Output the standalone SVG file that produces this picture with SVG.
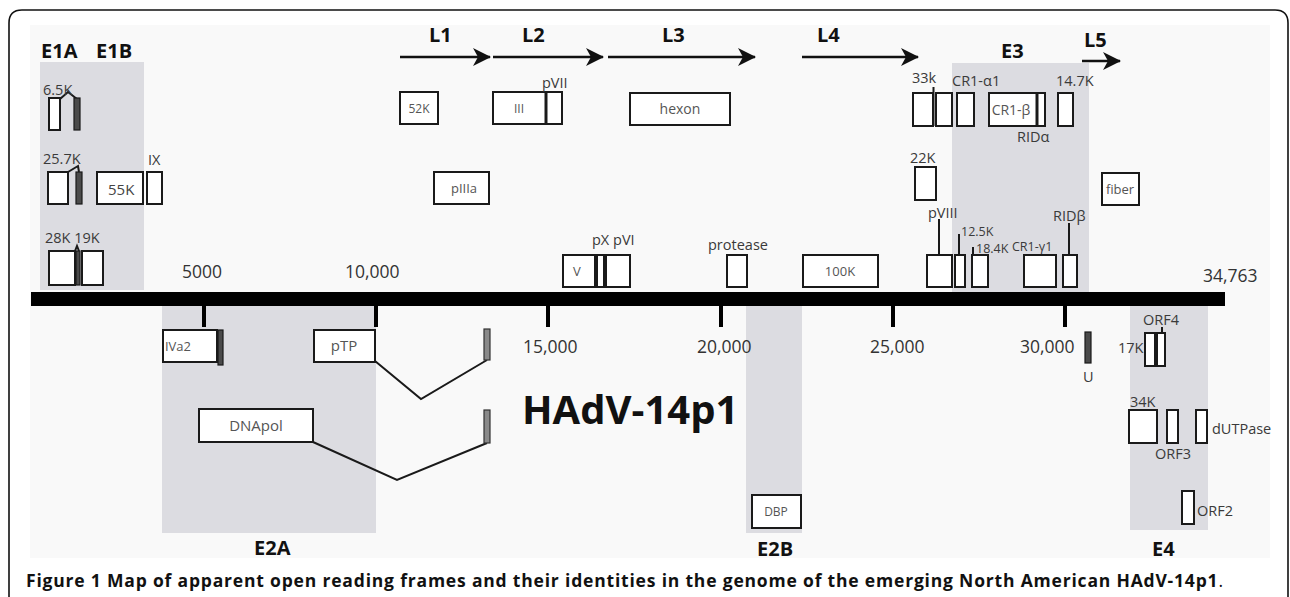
<svg xmlns="http://www.w3.org/2000/svg" width="1290" height="597" viewBox="0 0 1290 597">
<defs>
<style>
.region{fill:#dcdce1}
.orf{fill:#fff;stroke:#1a1a1a;stroke-width:2}
.exon{fill:#4a4a4a;stroke:#1a1a1a;stroke-width:1.2}
.gexon{fill:#8a8a8a;stroke:#333;stroke-width:1.2}
.conn{fill:none;stroke:#1a1a1a;stroke-width:2}
.arrow{fill:none;stroke:#111;stroke-width:2.6}
text{font-family:"Open Sans","Noto Sans","Liberation Sans",sans-serif}
.lbl{font-size:14.5px;fill:#3a3a3a}
.sm{font-size:12.5px}
.in{font-size:13px;fill:#555;text-anchor:middle}
.ax{font-size:17.5px;fill:#333}
.hd{font-size:20px;font-weight:bold;fill:#111}
</style>
<marker id="ah" markerUnits="userSpaceOnUse" markerWidth="18" markerHeight="18" refX="17" refY="9" orient="auto">
<path d="M0,0 L18,9 L0,18 L5,9 Z" fill="#111"/>
</marker>
</defs>
<rect x="0" y="0" width="1290" height="597" fill="#fff"/>
<path d="M9,597 V23 Q9,10 22,10 H1275 Q1288,10 1288,23 V597" fill="none" stroke="#111" stroke-width="1.6"/>
<rect x="30" y="25" width="1240" height="533" fill="#f9f9f9"/>

<g id="regions">
<rect class="region" x="40" y="62" width="104" height="228"/>
<rect class="region" x="952" y="63" width="137" height="229"/>
<rect class="region" x="162" y="306" width="214" height="227"/>
<rect class="region" x="746" y="306" width="56" height="227"/>
<rect class="region" x="1130" y="306" width="78" height="224"/>
</g>

<g id="genome">
<rect x="31" y="292" width="1194" height="14" fill="#000"/>
<rect x="202" y="305" width="4" height="22" fill="#000"/>
<rect x="374" y="305" width="4" height="22" fill="#000"/>
<rect x="546" y="305" width="4" height="22" fill="#000"/>
<rect x="719" y="305" width="4" height="22" fill="#000"/>
<rect x="891" y="305" width="4" height="22" fill="#000"/>
<rect x="1063" y="305" width="4" height="22" fill="#000"/>
<text class="ax" x="182" y="278">5000</text>
<text class="ax" x="345" y="278">10,000</text>
<text class="ax" x="523" y="353">15,000</text>
<text class="ax" x="697" y="353">20,000</text>
<text class="ax" x="870" y="353">25,000</text>
<text class="ax" x="1020" y="353">30,000</text>
<text class="ax" x="1203" y="282">34,763</text>
</g>

<g id="region-labels">
<text class="hd" x="41" y="58">E1A</text>
<text class="hd" x="96" y="58">E1B</text>
<text class="hd" x="429" y="42">L1</text>
<text class="hd" x="522" y="42">L2</text>
<text class="hd" x="662" y="42">L3</text>
<text class="hd" x="817" y="42">L4</text>
<text class="hd" x="1001" y="58">E3</text>
<text class="hd" x="1084" y="47">L5</text>
<text class="hd" x="254" y="555">E2A</text>
<text class="hd" x="757" y="556">E2B</text>
<text class="hd" x="1152" y="556">E4</text>
<text x="522" y="424" font-size="40" font-weight="bold" fill="#111">HAdV-14p1</text>
</g>

<g id="transcripts">
<line class="arrow" x1="400" y1="57" x2="490" y2="57" marker-end="url(#ah)"/>
<line class="arrow" x1="493" y1="57" x2="603" y2="57" marker-end="url(#ah)"/>
<line class="arrow" x1="608" y1="57" x2="755" y2="57" marker-end="url(#ah)"/>
<line class="arrow" x1="802" y1="57" x2="918" y2="57" marker-end="url(#ah)"/>
<line class="arrow" x1="1082" y1="61" x2="1120" y2="61" marker-end="url(#ah)"/>
</g>

<g id="connectors">
<path class="conn" d="M60,99 L68,92 L77,99"/>
<path class="conn" d="M68,172 L78,166 L79,172"/>
<path class="conn" d="M75,251 L77,246 L79,251"/>
<path class="conn" d="M933.5,87 V126"/>
<path class="conn" d="M375,361 L421,399 L487,360"/>
<path class="conn" d="M313,442 L397,480 L487,443"/>
<path class="conn" d="M939,219 V255"/>
<path class="conn" d="M959,234 V255"/>
<path class="conn" d="M973,247 V255"/>
<path class="conn" d="M1069,223 V255"/>
<path class="conn" d="M1162,327 V333"/>
</g>

<g id="n-6-5K"><rect class="orf" x="49" y="98" width="11" height="32"/><rect class="exon" x="74" y="98" width="6" height="32"/><text class="lbl" x="43" y="95">6.5K</text></g>
<g id="n-25-7K"><rect class="orf" x="48" y="172" width="20" height="32"/><rect class="exon" x="76" y="172" width="6" height="32"/><text class="lbl" x="43" y="164">25.7K</text></g>
<g id="n-55K"><rect class="orf" x="97" y="172" width="46" height="32"/><text class="lbl" x="108" y="195" style="font-size:15px;fill:#444">55K</text></g>
<g id="n-IX"><rect class="orf" x="147" y="172" width="15" height="32"/><text class="lbl" x="148" y="165">IX</text></g>
<g id="n-28K-19K"><rect class="orf" x="49" y="251" width="26" height="34"/><rect class="exon" x="76" y="251" width="4" height="34"/><rect class="orf" x="82" y="251" width="21" height="34"/><text class="lbl" x="45" y="243">28K 19K</text></g>
<g id="n-52K"><rect class="orf" x="400" y="92" width="38" height="32"/><text class="in" x="419" y="113" style="font-size:12px">52K</text></g>
<g id="n-III"><rect class="orf" x="493" y="92" width="69" height="32"/><line x1="546" y1="92" x2="546" y2="124" stroke="#1a1a1a" stroke-width="3"/><text class="in" x="519" y="113" style="font-size:12px">III</text><text class="lbl" x="542" y="88">pVII</text></g>
<g id="n-hexon"><rect class="orf" x="630" y="93" width="100" height="32"/><text class="in" x="680" y="114" style="font-size:14px">hexon</text></g>
<g id="n-pIIIa"><rect class="orf" x="434" y="172" width="55" height="32"/><text class="in" x="464" y="193">pIIIa</text></g>
<g id="n-V"><rect class="orf" x="563" y="255" width="32" height="32"/><text class="in" x="577" y="276">V</text></g>
<g id="n-pX-pVI"><rect class="orf" x="597" y="255" width="7" height="32"/><rect class="orf" x="606" y="255" width="24" height="32"/><text class="lbl" x="592" y="245">pX pVI</text></g>
<g id="n-protease"><rect class="orf" x="727" y="255" width="20" height="32"/><text class="lbl" x="708" y="250">protease</text></g>
<g id="n-100K"><rect class="orf" x="803" y="255" width="75" height="32"/><text class="in" x="840" y="276">100K</text></g>
<g id="n-33k"><rect class="orf" x="913" y="93" width="20" height="33"/><rect class="orf" x="936" y="93" width="16" height="33"/><text class="lbl" x="912" y="83">33k</text></g>
<g id="n-CR1-a1"><rect class="orf" x="957" y="93" width="17" height="33"/><text class="lbl" x="952" y="86">CR1-α1</text></g>
<g id="n-CR1-b"><rect class="orf" x="989" y="93" width="48" height="33"/><text class="in" x="1011" y="115" style="font-size:14px">CR1-β</text></g>
<g id="n-RIDa"><rect class="orf" x="1037" y="93" width="8" height="33"/><line x1="1037" y1="93" x2="1037" y2="126" stroke="#1a1a1a" stroke-width="3"/><text class="lbl" x="1017" y="142">RIDα</text></g>
<g id="n-14-7K"><rect class="orf" x="1058" y="93" width="15" height="33"/><text class="lbl" x="1056" y="86">14.7K</text></g>
<g id="n-22K"><rect class="orf" x="915" y="167" width="21" height="33"/><text class="lbl" x="910" y="163">22K</text></g>
<g id="n-fiber"><rect class="orf" x="1102" y="173" width="37" height="32"/><text class="in" x="1120" y="194">fiber</text></g>
<g id="n-pVIII"><rect class="orf" x="927" y="255" width="25" height="32"/><text class="lbl" x="928" y="218">pVIII</text></g>
<g id="n-12-5K"><rect class="orf" x="955" y="255" width="10" height="32"/><text class="lbl sm" x="961" y="236">12.5K</text></g>
<g id="n-18-4K"><rect class="orf" x="972" y="255" width="16" height="32"/><text class="lbl sm" x="976" y="253">18.4K</text></g>
<g id="n-CR1-g1"><rect class="orf" x="1024" y="255" width="32" height="32"/><text class="lbl sm" x="1012" y="251">CR1-γ1</text></g>
<g id="n-RIDb"><rect class="orf" x="1063" y="255" width="14" height="32"/><text class="lbl" x="1053" y="221">RIDβ</text></g>

<g id="n-IVa2"><rect class="orf" x="163" y="330" width="54" height="32"/><rect class="exon" x="218" y="330" width="5" height="35"/><text class="in" x="178" y="351">IVa2</text></g>
<g id="n-pTP"><rect class="orf" x="314" y="330" width="61" height="32"/><rect class="gexon" x="484" y="329" width="6" height="31"/><text class="in" x="344" y="351" style="font-size:15px">pTP</text></g>
<g id="n-DNApol"><rect class="orf" x="199" y="409" width="114" height="33"/><rect class="gexon" x="484" y="410" width="6" height="33"/><text class="in" x="256" y="431" style="font-size:15px">DNApol</text></g>
<g id="n-DBP"><rect class="orf" x="752" y="495" width="49" height="33"/><text class="in" x="776" y="516" style="font-size:12px">DBP</text></g>
<g id="n-U"><rect class="exon" x="1085" y="332" width="6" height="31"/><text class="lbl" x="1083" y="382">U</text></g>
<g id="n-ORF4-17K"><rect class="orf" x="1145" y="333" width="10" height="33"/><rect class="orf" x="1157" y="333" width="8" height="33"/><line x1="1156" y1="333" x2="1156" y2="366" stroke="#1a1a1a" stroke-width="2"/><text class="lbl" x="1143" y="325">ORF4</text><text class="lbl" x="1118" y="353">17K</text></g>
<g id="n-34K"><rect class="orf" x="1129" y="410" width="28" height="33"/><text class="lbl" x="1130" y="407">34K</text></g>
<g id="n-ORF3"><rect class="orf" x="1167" y="410" width="11" height="33"/><text class="lbl" x="1155" y="459">ORF3</text></g>
<g id="n-dUTPase"><rect class="orf" x="1196" y="410" width="11" height="33"/><text class="lbl" x="1212" y="434">dUTPase</text></g>
<g id="n-ORF2"><rect class="orf" x="1182" y="491" width="12" height="33"/><text class="lbl" x="1197" y="516">ORF2</text></g>

<text x="26" y="587" font-size="17.5" font-weight="bold" fill="#111" textLength="1197" lengthAdjust="spacing">Figure 1 Map of apparent open reading frames and their identities in the genome of the emerging North American HAdV-14p1<tspan font-weight="normal">.</tspan></text>
</svg>
